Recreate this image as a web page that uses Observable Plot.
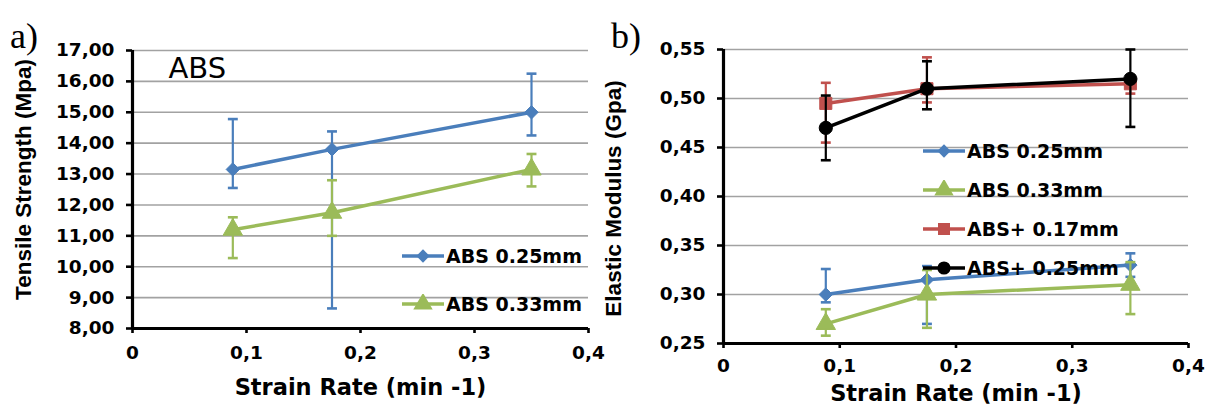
<!DOCTYPE html>
<html><head><meta charset="utf-8">
<script src="https://cdn.jsdelivr.net/npm/d3@7"></script>
<script src="https://cdn.jsdelivr.net/npm/@observablehq/plot@0.6"></script>
<style>
body{margin:0;background:#fff;}
#wrap{position:relative;width:1215px;height:407px;overflow:hidden;font-family:"DejaVu Sans";}
.panel{position:absolute;top:0;}
.plab{position:absolute;font-family:"Liberation Serif","DejaVu Serif",serif;font-size:36px;line-height:1;color:#000;}
.legend{position:absolute;font:bold 19px "DejaVu Sans";color:#000;}
.legend .row{position:absolute;left:0;display:flex;align-items:center;white-space:nowrap;}
</style></head><body><div id="wrap"></div>
<script>
// ---------- data ----------
const strainRate = [0.088, 0.175, 0.35];
const xTicks = [0, 0.1, 0.2, 0.3, 0.4];

// panel a: tensile strength (MPa)
const tsTicks = [8, 9, 10, 11, 12, 13, 14, 15, 16, 17];
const tsABS025   = [13.15, 13.8, 15.0];
const tsABS025Lo = [12.55, 8.65, 14.25];
const tsABS025Hi = [14.78, 14.38, 16.25];
const tsABS033   = [11.2, 11.75, 13.15];
const tsABS033Lo = [10.28, 11.0, 12.6];
const tsABS033Hi = [11.6, 12.8, 13.65];

// panel b: elastic modulus (GPa)
const emTicks = [0.25, 0.30, 0.35, 0.40, 0.45, 0.50, 0.55];
const emABS025    = [0.300, 0.315, 0.330];
const emABS025Lo  = [0.292, 0.270, 0.318];
const emABS025Hi  = [0.326, 0.329, 0.342];
const emABS033    = [0.270, 0.300, 0.310];
const emABS033Lo  = [0.258, 0.266, 0.280];
const emABS033Hi  = [0.285, 0.325, 0.333];
const emABSp017   = [0.495, 0.510, 0.515];
const emABSp017Lo = [0.455, 0.496, 0.505];
const emABSp017Hi = [0.516, 0.542, 0.522];
const emABSp025   = [0.470, 0.510, 0.520];
const emABSp025Lo = [0.437, 0.489, 0.471];
const emABSp025Hi = [0.503, 0.538, 0.550];

const seriesNames = ["ABS 0.25mm", "ABS 0.33mm", "ABS+ 0.17mm", "ABS+ 0.25mm"];
const seriesColors = ["#4A7EBB", "#9BBB59", "#C0504D", "#000000"];
const seriesSymbols = ["diamond2", "triangle", "square", "circle"];
const seriesR = [6, 7.2, 6.8, 6.6];

// ---------- helpers ----------
const fmtY = d => d.toFixed(2).replace(".", ",");
const fmtX = d => d === 0 ? "0" : String(d).replace(".", ",");
const capSym = {draw(ctx, size) { const w = Math.sqrt(size) / 2; ctx.moveTo(-w, 0); ctx.lineTo(w, 0); }};

function rows(vals, lo, hi) {
  return strainRate.map((x, i) => ({x, y: vals[i], lo: lo[i], hi: hi[i]}));
}

function seriesMarks(data, k) {
  const c = seriesColors[k];
  return [
    Plot.line(data, {x: "x", y: "y", stroke: c, strokeWidth: 3.5}),
    Plot.ruleX(data, {x: "x", y1: "lo", y2: "hi", stroke: c, strokeWidth: 2.2}),
    Plot.dot(data, {x: "x", y: "lo", symbol: capSym, r: 5.6, stroke: c, strokeWidth: 2.6}),
    Plot.dot(data, {x: "x", y: "hi", symbol: capSym, r: 5.6, stroke: c, strokeWidth: 2.6}),
    Plot.dot(data, {x: "x", y: "y", symbol: seriesSymbols[k], r: seriesR[k], fill: c, stroke: c, strokeWidth: 1})
  ];
}

function panel(o) {
  return Plot.plot({
    width: o.width, height: 407,
    marginLeft: o.ml, marginRight: o.mr, marginTop: o.mt, marginBottom: o.mb,
    x: {domain: [0, 0.4]},
    y: {domain: [o.yTicks[0], o.yTicks[o.yTicks.length - 1]]},
    style: {fontFamily: "DejaVu Sans", color: "#000", background: "transparent", overflow: "visible"},
    marks: [
      Plot.gridY(o.yTicks.slice(1), {stroke: "#a2a2a2", strokeOpacity: 1, strokeWidth: 1.6}),
      ...o.series.flatMap(([d, k]) => seriesMarks(d, k)),
      Plot.ruleX([0], {stroke: "#000", strokeWidth: 3.2}),
      Plot.ruleY([o.yTicks[0]], {stroke: "#000", strokeWidth: 3.2}),
      Plot.axisY(o.yTicks, {tickFormat: fmtY, tickSize: 6, tickPadding: 12, strokeWidth: 2.6, fontSize: 18.5, fontWeight: "bold", label: null}),
      Plot.axisX(xTicks, {tickFormat: fmtX, tickSize: 5, tickPadding: o.xPad, strokeWidth: 2.6, fontSize: 18.5, fontWeight: "bold", label: null}),
      Plot.text([o.yLabel], {frameAnchor: "left", textAnchor: "middle", rotate: -90, dx: o.yLabDx, dy: o.yLabDy, fontSize: 22.5, fontWeight: "bold", fontFamily: "Liberation Sans"}),
      Plot.text(["Strain Rate (min -1)"], {frameAnchor: "bottom", dy: o.xLabDy, fontSize: 22.5, fontWeight: "bold"}),
      ...(o.extra || [])
    ]
  });
}

function legend(left, top, gap, idx) {
  const L = document.createElement("div");
  L.className = "legend";
  L.style.left = left + "px"; L.style.top = top + "px";
  idx.forEach((k, j) => {
    const row = document.createElement("div");
    row.className = "row";
    row.style.top = (j * gap) + "px";
    const svg = d3.create("svg").attr("width", 44).attr("height", 20);
    svg.append("line").attr("x1", 1).attr("x2", 43).attr("y1", 10).attr("y2", 10)
      .attr("stroke", seriesColors[k]).attr("stroke-width", 3.5);
    const sym = {diamond2: d3.symbolDiamond2, triangle: d3.symbolTriangle, square: d3.symbolSquare, circle: d3.symbolCircle}[seriesSymbols[k]];
    svg.append("path").attr("d", d3.symbol(sym, Math.PI * seriesR[k] * seriesR[k])())
      .attr("transform", "translate(22,10)").attr("fill", seriesColors[k]);
    row.appendChild(svg.node());
    const t = document.createElement("span");
    t.textContent = seriesNames[k];
    t.style.marginLeft = "1px";
    row.appendChild(t);
    L.appendChild(row);
  });
  return L;
}

// ---------- build ----------
const wrap = document.getElementById("wrap");

const left = panel({
  width: 600, ml: 132, mr: 12, mt: 50, mb: 79,
  yTicks: tsTicks, yLabel: "Tensile Strength (Mpa)", yLabDx: -109, yLabDy: -10,
  xPad: 12, xLabDy: 66,
  series: [[rows(tsABS025, tsABS025Lo, tsABS025Hi), 0], [rows(tsABS033, tsABS033Lo, tsABS033Hi), 1]],
  extra: [Plot.text(["ABS"], {frameAnchor: "top-left", dx: 36, dy: 7, textAnchor: "start", fontSize: 29, fontWeight: "normal"})]
});
const right = panel({
  width: 615, ml: 123, mr: 27, mt: 49, mb: 64,
  yTicks: emTicks, yLabel: "Elastic Modulus (Gpa)", yLabDx: -110, yLabDy: 2,
  xPad: 10, xLabDy: 57,
  series: [
    [rows(emABS025, emABS025Lo, emABS025Hi), 0],
    [rows(emABS033, emABS033Lo, emABS033Hi), 1],
    [rows(emABSp017, emABSp017Lo, emABSp017Hi), 2],
    [rows(emABSp025, emABSp025Lo, emABSp025Hi), 3]
  ]
});

const dl = document.createElement("div"); dl.className = "panel"; dl.style.left = "0px"; dl.appendChild(left);
const dr = document.createElement("div"); dr.className = "panel"; dr.style.left = "600px"; dr.appendChild(right);
wrap.appendChild(dl); wrap.appendChild(dr);

const la = document.createElement("div"); la.className = "plab"; la.textContent = "a)"; la.style.left = "10px"; la.style.top = "18px";
const lb = document.createElement("div"); lb.className = "plab"; lb.textContent = "b)"; lb.style.left = "611px"; lb.style.top = "18px";
wrap.appendChild(la); wrap.appendChild(lb);

wrap.appendChild(legend(401, 245, 48, [0, 1]));
wrap.appendChild(legend(922, 140, 39, [0, 1, 2, 3]));
</script>
</body></html>
